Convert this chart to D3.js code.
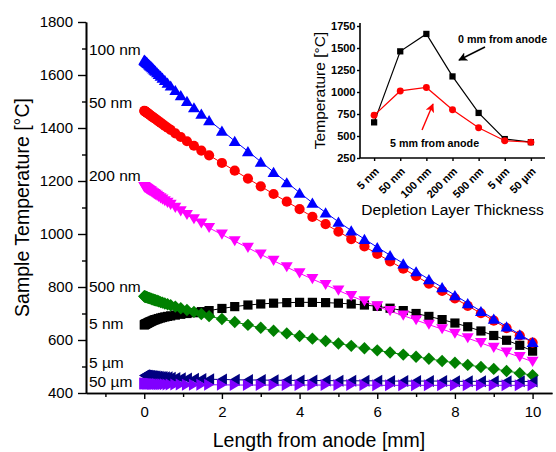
<!DOCTYPE html>
<html>
<head>
<meta charset="utf-8">
<script src="https://cdn.jsdelivr.net/npm/d3@7"></script>
<style>
  body { margin: 0; background: #fff; }
  svg { display: block; font-family: "Liberation Sans", Arial, sans-serif; }
</style>
</head>
<body>
<svg id="chart" width="556" height="452"></svg>
<script>
// Position along the sample, measured from the anode [mm]
const lengthMm = [0, 0.01, 0.02, 0.03, 0.045, 0.06, 0.075, 0.09, 0.11, 0.13,
  0.15, 0.175, 0.2, 0.23, 0.26, 0.29, 0.33, 0.37, 0.42, 0.47,
  0.53, 0.6, 0.68, 0.8, 0.94, 1.1, 1.28, 1.47, 1.67, 2,
  2.33, 2.67, 3, 3.33, 3.67, 4, 4.33, 4.67, 5, 5.33,
  5.67, 6, 6.33, 6.67, 7, 7.33, 7.67, 8, 8.33, 8.67,
  9, 9.33, 9.67, 10];

// Sample temperature [°C] for each depletion layer thickness
const temp5nm = [657, 658, 659, 660, 661, 662, 663, 664, 666, 667,
  669, 670, 672, 674, 676, 677, 679, 681, 683, 685,
  687, 689, 691, 694, 697, 700, 703, 707, 711, 719,
  726, 732, 736, 739, 741, 742, 742, 741, 739, 736,
  732, 727, 720, 711, 700, 689, 677, 664, 650, 634,
  617, 599, 580, 558];
const temp50nm = [1465, 1464, 1463, 1462, 1460, 1459, 1457, 1455, 1453, 1451,
  1449, 1446, 1443, 1440, 1437, 1434, 1430, 1425, 1420, 1415,
  1408, 1401, 1393, 1380, 1366, 1350, 1333, 1315, 1297, 1268,
  1239, 1209, 1180, 1151, 1122, 1094, 1065, 1037, 1009, 981,
  953, 925, 897, 869, 841, 813, 785, 757, 729, 701,
  673, 645, 617, 590];
const temp100nm = [1658, 1656, 1655, 1653, 1651, 1649, 1647, 1645, 1642, 1639,
  1636, 1633, 1629, 1625, 1620, 1616, 1610, 1604, 1597, 1590,
  1581, 1571, 1560, 1543, 1524, 1502, 1478, 1454, 1429, 1390,
  1351, 1312, 1273, 1234, 1195, 1156, 1118, 1081, 1046, 1013,
  981, 950, 920, 889, 859, 829, 799, 769, 739, 709,
  680, 651, 621, 592];
const temp200nm = [1177, 1176, 1175, 1174, 1173, 1171, 1170, 1168, 1166, 1164,
  1162, 1160, 1157, 1154, 1151, 1148, 1144, 1140, 1135, 1130,
  1124, 1118, 1110, 1099, 1086, 1072, 1056, 1040, 1023, 998,
  973, 948, 923, 899, 875, 852, 830, 808, 787, 766,
  746, 727, 709, 692, 675, 658, 641, 624, 607, 589,
  571, 553, 536, 518];
const temp500nm = [765, 764, 764, 763, 762, 762, 761, 760, 759, 758,
  757, 756, 754, 753, 751, 750, 748, 746, 743, 741,
  738, 735, 731, 726, 720, 713, 706, 698, 690, 679,
  668, 657, 646, 635, 625, 615, 605, 596, 587, 578,
  569, 561, 553, 545, 537, 529, 521, 514, 506, 498,
  491, 483, 475, 467];
const temp5um = [466, 466, 466, 466, 465, 465, 465, 465, 464, 464,
  464, 463, 463, 463, 462, 462, 461, 461, 460, 460,
  459, 459, 458, 457, 456, 455, 454, 453, 452, 451,
  450, 449, 449, 448, 448, 447, 447, 447, 446, 446,
  446, 446, 445, 445, 445, 445, 445, 444, 444, 444,
  444, 444, 444, 443];
const temp50um = [436, 436, 436, 436, 436, 436, 435, 435, 435, 435,
  435, 435, 434, 434, 434, 434, 434, 433, 433, 433,
  433, 432, 432, 432, 432, 431, 431, 431, 431, 431,
  430, 430, 430, 430, 430, 430, 430, 430, 430, 430,
  430, 429, 429, 429, 429, 429, 429, 429, 429, 429,
  429, 429, 429, 429];

const seriesNames = ["5 nm", "50 nm", "100 nm", "200 nm", "500 nm", "5 µm", "50 µm"];
const seriesValues = [temp5nm, temp50nm, temp100nm, temp200nm, temp500nm, temp5um, temp50um];

// Main axes ticks
const xMajorTicks = [0, 2, 4, 6, 8, 10];
const xMinorTicks = [-1, 1, 3, 5, 7, 9];
const yMajorTicks = [400, 600, 800, 1000, 1200, 1400, 1600, 1800];
const yMinorTicks = [500, 700, 900, 1100, 1300, 1500, 1700];

// Inset: temperature vs depletion layer thickness
const insetCategories = ["5 nm", "50 nm", "100 nm", "200 nm", "500 nm", "5 µm", "50 µm"];
const insetAt0mm = [655, 1462, 1660, 1177, 762, 465, 430];
const insetAt5mm = [735, 1012, 1052, 798, 594, 446, 429];
const insetYTicks = [250, 500, 750, 1000, 1250, 1500, 1750];

// ---- styling ----
const colors = ["#000000", "#ff0000", "#0000ff", "#ff00ff", "#008000", "#000080", "#8000ff"];
const shapes = ["square", "circle", "up", "down", "diamond", "left", "right"];
const labelBaselines = [329, 108, 55, 181, 292, 368, 387];
const plain = d3.format("d");

function symbolPath(shape, k) {
  k = k || 1;
  const p = (pts) => "M" + pts.map(([a, b]) => (a * k).toFixed(2) + "," + (b * k).toFixed(2)).join("L") + "Z";
  switch (shape) {
    case "square": return p([[-4.6, -4.6], [4.6, -4.6], [4.6, 4.6], [-4.6, 4.6]]);
    case "up": return p([[0, -5.2], [6, 5], [-6, 5]]);
    case "down": return p([[0, 5.2], [6, -5], [-6, -5]]);
    case "diamond": return p([[0, -6.2], [6.2, 0], [0, 6.2], [-6.2, 0]]);
    case "left": return p([[-5.2, 0], [5, -6], [5, 6]]);
    case "right": return p([[5.2, 0], [-5, -6], [-5, 6]]);
    default: {
      const r = 5.1 * k;
      return `M${r},0A${r},${r} 0 1,1 ${-r},0A${r},${r} 0 1,1 ${r},0Z`;
    }
  }
}

const svg = d3.select("#chart");
svg.append("rect").attr("width", 556).attr("height", 452).attr("fill", "#fff");

const x = d3.scaleLinear().domain([-1.5, 10.5]).range([86, 552]);
const y = d3.scaleLinear().domain([400, 1800]).range([393, 22]);

function styleAxis(g, fontSize, weight) {
  g.select(".domain").attr("stroke", "#000").attr("stroke-width", 1.6);
  g.selectAll(".tick line").attr("stroke", "#000").attr("stroke-width", 1.4);
  g.selectAll(".tick text").attr("fill", "#000")
    .attr("font-size", fontSize).attr("font-weight", weight || "normal")
    .attr("font-family", "'Liberation Sans', Arial, sans-serif");
}

// Minor ticks first, then major axes on top
svg.append("g").attr("transform", `translate(0,${y(400)})`)
  .call(d3.axisBottom(x).tickValues(xMinorTicks).tickSize(4).tickSizeOuter(0).tickFormat(""))
  .call(g => styleAxis(g, 15));
svg.append("g").attr("transform", `translate(${x(-1.5)},0)`)
  .call(d3.axisLeft(y).tickValues(yMinorTicks).tickSize(4).tickSizeOuter(0).tickFormat(""))
  .call(g => styleAxis(g, 15));

svg.append("g").attr("transform", `translate(0,${y(400)})`)
  .call(d3.axisBottom(x).tickValues(xMajorTicks).tickSize(6).tickSizeOuter(0).tickPadding(7).tickFormat(plain))
  .call(g => styleAxis(g, 15));
svg.append("g").attr("transform", `translate(${x(-1.5)},0)`)
  .call(d3.axisLeft(y).tickValues(yMajorTicks).tickSize(8).tickSizeOuter(0).tickPadding(5).tickFormat(plain))
  .call(g => styleAxis(g, 15));

// Axis titles
svg.append("text")
  .attr("x", (x(-1.5) + x(10.5)) / 2).attr("y", 447)
  .attr("text-anchor", "middle").attr("font-size", 19.5)
  .text("Length from anode [mm]");
svg.append("text")
  .attr("transform", `translate(29,${(y(400) + y(1800)) / 2}) rotate(-90)`)
  .attr("text-anchor", "middle").attr("font-size", 19.5)
  .text("Sample Temperature [°C]");

// Curves with symbols
const line = d3.line().x(d => x(d[0])).y(d => y(d[1]));
seriesValues.forEach((vals, i) => {
  const pts = lengthMm.map((m, j) => [m, vals[j]]);
  const g = svg.append("g");
  g.append("path").datum(pts).attr("d", line)
    .attr("fill", "none").attr("stroke", colors[i]).attr("stroke-width", 1);
  g.selectAll("path.sym").data(pts).join("path").attr("class", "sym")
    .attr("transform", d => `translate(${x(d[0])},${y(d[1])})`)
    .attr("d", symbolPath(shapes[i]))
    .attr("fill", colors[i]);
});

// Series labels beside the anode end
seriesNames.forEach((name, i) => {
  svg.append("text").attr("x", 89).attr("y", labelBaselines[i])
    .attr("font-size", 15.5).attr("fill", "#000").text(name);
});

// ---- Inset ----
const ix = d3.scalePoint().domain(insetCategories).range([360, 545]).padding(0.54);
const iy = d3.scaleLinear().domain([250, 1750]).range([158, 26]);

const inset = svg.append("g");
inset.append("g").attr("transform", "translate(360,0)")
  .call(d3.axisLeft(iy).tickValues(insetYTicks).tickSize(3).tickSizeOuter(0).tickPadding(1.5).tickFormat(plain))
  .call(g => styleAxis(g, 11, "bold"))
  .call(g => g.select(".domain").attr("d", `M0,${iy(250)}V23`));
const ixAxis = inset.append("g").attr("transform", `translate(0,${iy(250)})`)
  .call(d3.axisBottom(ix).tickSize(3).tickSizeOuter(0))
  .call(g => styleAxis(g, 11, "bold"))
  .call(g => g.select(".domain").attr("d", "M360,0H545"));
ixAxis.selectAll(".tick text")
  .attr("text-anchor", "end").attr("dy", null).attr("y", 0)
  .attr("transform", "translate(5,14) rotate(-45)");

inset.append("text")
  .attr("x", (360 + 545) / 2).attr("y", 215)
  .attr("text-anchor", "middle").attr("font-size", 15.5)
  .text("Depletion Layer Thickness");
inset.append("text")
  .attr("transform", `translate(325,${(iy(250) + 23) / 2}) rotate(-90)`)
  .attr("text-anchor", "middle").attr("font-size", 15.5)
  .text("Temperature [°C]");

const insetLine = d3.line().x(d => ix(d[0])).y(d => iy(d[1]));
[[insetAt0mm, "#000000", "square"], [insetAt5mm, "#ff0000", "circle"]].forEach(([vals, c, shp]) => {
  const pts = insetCategories.map((cat, j) => [cat, vals[j]]);
  inset.append("path").datum(pts).attr("d", insetLine)
    .attr("fill", "none").attr("stroke", c).attr("stroke-width", 1.2);
  inset.selectAll(null).data(pts).join("path")
    .attr("transform", d => `translate(${ix(d[0])},${iy(d[1])})`)
    .attr("d", symbolPath(shp, 0.68)).attr("fill", c);
});

// Annotations with arrows
const defs = svg.append("defs");
[["arrBlack", "#000"], ["arrRed", "#ff0000"]].forEach(([id, c]) => {
  defs.append("marker").attr("id", id).attr("viewBox", "0 0 10 10")
    .attr("refX", 9).attr("refY", 5).attr("markerWidth", 9).attr("markerHeight", 9)
    .attr("markerUnits", "userSpaceOnUse").attr("orient", "auto")
    .append("path").attr("d", "M0,0L10,5L0,10L2.5,5Z").attr("fill", c);
});
inset.append("text").attr("x", 458).attr("y", 43)
  .attr("font-size", 10.7).attr("font-weight", "bold").text("0 mm from anode");
inset.append("line").attr("x1", 485).attr("y1", 47).attr("x2", 459).attr("y2", 60)
  .attr("stroke", "#000").attr("stroke-width", 1.4).attr("marker-end", "url(#arrBlack)");
inset.append("text").attr("x", 390).attr("y", 147)
  .attr("font-size", 10.7).attr("font-weight", "bold").text("5 mm from anode");
inset.append("line").attr("x1", 422).attr("y1", 130).attr("x2", 433).attr("y2", 104)
  .attr("stroke", "#ff0000").attr("stroke-width", 1.4).attr("marker-end", "url(#arrRed)");
</script>
</body>
</html>
